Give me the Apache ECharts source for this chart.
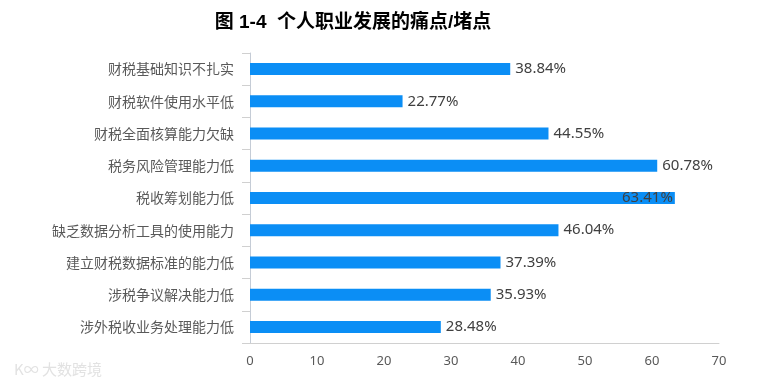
<!DOCTYPE html>
<html>
<head>
<meta charset="utf-8">
<script src="https://cdn.jsdelivr.net/npm/echarts@6/dist/echarts.min.js"></script>
<style>
html,body{margin:0;padding:0;background:#fff;}
#chart{width:761px;height:385px;}
</style>
</head>
<body>
<div id="chart"></div>
<script>
const titleText = '图 1-4  个人职业发展的痛点/堵点';
const categories = [
  '财税基础知识不扎实',
  '财税软件使用水平低',
  '财税全面核算能力欠缺',
  '税务风险管理能力低',
  '税收筹划能力低',
  '缺乏数据分析工具的使用能力',
  '建立财税数据标准的能力低',
  '涉税争议解决能力低',
  '涉外税收业务处理能力低'
];
const values = [38.84, 22.77, 44.55, 60.78, 63.41, 46.04, 37.39, 35.93, 28.48];
const xTicks = [0, 10, 20, 30, 40, 50, 60, 70];

const maxVal = Math.max(...values);
const seriesData = values.map(v => v === maxVal
  ? { value: v, label: { position: 'insideRight', distance: 2, color: '#404040' } }
  : { value: v });

const chart = echarts.init(document.getElementById('chart'), null, { renderer: 'canvas' });
chart.setOption({
  backgroundColor: '#ffffff',
  animation: false,
  title: {
    text: titleText,
    left: 348,
    textAlign: 'center',
    top: 8,
    textStyle: {
      fontFamily: '"Liberation Sans", "Noto Sans CJK SC", sans-serif',
      fontWeight: 'bold',
      fontSize: 19,
      color: '#000'
    }
  },
  graphic: [{
    type: 'text',
    left: 14,
    top: 362,
    style: {
      text: 'K∞ 大数跨境',
      fill: '#e2e2e2',
      font: '15px "Noto Sans CJK SC", sans-serif'
    }
  }],
  grid: { left: 250, top: 53, width: 469, height: 290, containLabel: false },
  xAxis: {
    type: 'value',
    min: xTicks[0],
    max: xTicks[xTicks.length - 1],
    interval: 10,
    axisLine: { show: true, lineStyle: { color: '#d0d0d0', width: 1 } },
    axisTick: { show: false },
    splitLine: { show: false },
    axisLabel: {
      margin: 12,
      color: '#595959',
      fontSize: 13,
      fontFamily: '"Noto Sans", "Noto Sans CJK SC", sans-serif'
    }
  },
  yAxis: {
    type: 'category',
    data: categories,
    inverse: true,
    axisLine: { show: true, lineStyle: { color: '#c5ccd6', width: 1 } },
    axisTick: { show: true, length: 8, lineStyle: { color: '#d0d0d0' } },
    axisLabel: {
      margin: 16,
      color: '#595959',
      fontSize: 14,
      fontFamily: '"Noto Sans CJK SC", sans-serif'
    }
  },
  series: [{
    type: 'bar',
    data: seriesData,
    barWidth: 12,
    itemStyle: { color: '#0b8ef5' },
    label: {
      show: true,
      position: 'right',
      distance: 5,
      formatter: p => p.value.toFixed(2) + '%',
      color: '#404040',
      fontSize: 15,
      fontFamily: '"Noto Sans", sans-serif'
    }
  }]
});
</script>
</body>
</html>
